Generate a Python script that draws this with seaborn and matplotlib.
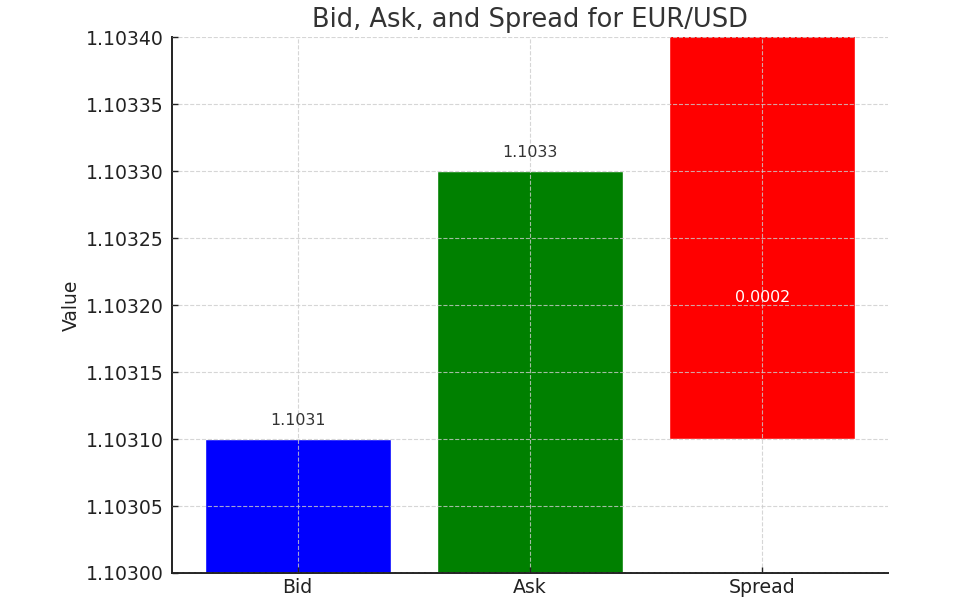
import pandas as pd
import matplotlib
matplotlib.use('Agg')
import matplotlib.pyplot as plt
import seaborn as sns

# valores do par EUR/USD
categorias = ['Bid', 'Ask', 'Spread']
bid = 1.1031
ask = 1.1033
spread = 0.0002
cores = ['blue', 'green', 'red']

dados = pd.DataFrame({'categoria': categorias, 'valor': [bid, ask, ask]})

sns.set_style('ticks')
plt.rcParams['font.family'] = ['DejaVu Sans']

fig, ax = plt.subplots(figsize=(9.68, 6), dpi=100)
fig.subplots_adjust(left=0.178, right=0.917, top=0.938, bottom=0.045)

sns.barplot(data=dados, x='categoria', y='valor', hue='categoria',
            palette=cores, errorbar=None, width=0.8, saturation=1,
            legend=False, ax=ax)

# barra do spread comeca no bid
barra_spread = ax.patches[2]
barra_spread.set_y(bid)

ax.set_xlim(-0.54, 2.54)
ax.set_ylim(1.1030, 1.1034)
ax.ticklabel_format(axis='y', useOffset=False, style='plain')
ax.yaxis.set_major_formatter(matplotlib.ticker.FormatStrFormatter('%.5f'))
ax.set_axisbelow(False)
ax.grid(True, linestyle='--', color='#cccccc', linewidth=0.8, alpha=0.8)

# rotulos dos valores
ax.text(0, bid + 0.000008, f'{bid:.4f}', ha='center', va='bottom',
        fontsize=11.4, color='#333333')
ax.text(1, ask + 0.000008, f'{ask:.4f}', ha='center', va='bottom',
        fontsize=11.4, color='#333333')
ax.text(2, bid + spread / 2, f'{spread:.4f}', ha='center', va='bottom',
        fontsize=11.4, color='white')

ax.set_title('Bid, Ask, and Spread for EUR/USD', fontsize=18.5, color='#333333', pad=7.5)
ax.set_xlabel('')
ax.set_ylabel('Value', fontsize=13.5, color='#222222')
ax.tick_params(axis='both', labelsize=13.6, colors='#222222',
               direction='in', length=4, width=1)
ax.tick_params(axis='y', pad=6)
for lado in ['left', 'bottom']:
    ax.spines[lado].set_linewidth(1.4)
    ax.spines[lado].set_color('#222222')
sns.despine(ax=ax)

plt.savefig('out.png', dpi=100)
